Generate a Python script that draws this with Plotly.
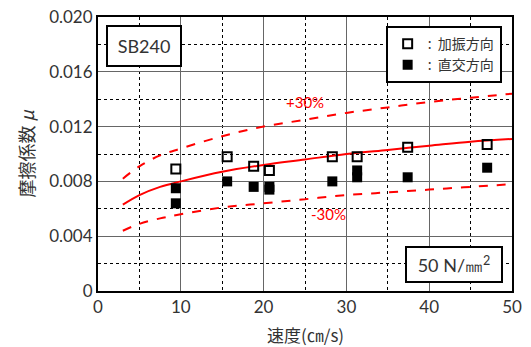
import plotly.graph_objects as go

# ---- data ----
speed_open = [9.4, 15.6, 18.8, 20.7, 28.3, 31.3, 37.4, 47.0]
mu_open = [0.0089, 0.0098, 0.0091, 0.0088, 0.0098, 0.0098, 0.0105, 0.0107]

speed_filled = [9.4, 9.4, 15.6, 18.8, 20.7, 20.7, 28.3, 31.3, 31.3, 37.4, 47.0]
mu_filled = [0.0075, 0.0064, 0.0080, 0.0076, 0.0076, 0.0074, 0.0080, 0.0088, 0.0083, 0.0083, 0.0090]

curve_x = [3, 5, 7.5, 10, 15, 20, 25, 30, 35, 40, 45, 50]
curve_mid = [0.0063, 0.0070, 0.0076, 0.0080, 0.0087, 0.0092, 0.0096, 0.0100, 0.0103, 0.0106, 0.0109, 0.0111]
curve_up = [0.0082, 0.0091, 0.0099, 0.0104, 0.0113, 0.0120, 0.0125, 0.0130, 0.0134, 0.0138, 0.0141, 0.0144]
curve_lo = [0.0044, 0.0049, 0.0053, 0.0056, 0.0061, 0.0064, 0.0067, 0.0070, 0.0072, 0.0074, 0.0076, 0.0078]

x_ticks = [0, 10, 20, 30, 40, 50]
y_ticks = [0, 0.004, 0.008, 0.012, 0.016, 0.020]
y_ticktext = ["0", "0.004", "0.008", "0.012", "0.016", "0.020"]

RED = "#ff0000"
TXT = "#333333"
NUMFONT = "Lato"
CJK = "Noto Sans CJK JP"

fig = go.Figure()

fig.add_trace(go.Scatter(x=curve_x, y=curve_up, mode="lines", line=dict(color=RED, width=2, dash="dash", shape="spline"), showlegend=False, hoverinfo="skip"))
fig.add_trace(go.Scatter(x=curve_x, y=curve_mid, mode="lines", line=dict(color=RED, width=2, shape="spline"), showlegend=False, hoverinfo="skip"))
fig.add_trace(go.Scatter(x=curve_x, y=curve_lo, mode="lines", line=dict(color=RED, width=2, dash="dash", shape="spline"), showlegend=False, hoverinfo="skip"))

fig.add_trace(go.Scatter(x=speed_open, y=mu_open, mode="markers", name=":  加振方向",
                         marker=dict(symbol="square-open", size=9, color="black", line=dict(width=2, color="black"))))
fig.add_trace(go.Scatter(x=speed_filled, y=mu_filled, mode="markers", name=":  直交方向",
                         marker=dict(symbol="square", size=10, color="black", line=dict(width=0))))

fig.update_layout(
    width=531, height=347,
    margin=dict(l=97.5, r=18.5, t=17, b=56, autoexpand=False),
    paper_bgcolor="white", plot_bgcolor="white",
    font=dict(family=NUMFONT, color=TXT, size=17),
    showlegend=True,
    legend=dict(x=0.975, xanchor="right", y=0.967, yanchor="top",
                bordercolor="black", borderwidth=2, bgcolor="white",
                font=dict(family=CJK, size=14, color=TXT),
                tracegroupgap=0, itemwidth=30),
    xaxis=dict(range=[0, 50], tickvals=x_ticks, showline=True, linecolor="black", linewidth=2, mirror=True,
               showgrid=True, gridcolor="#666666", gridwidth=1.2, zeroline=False, ticks="", automargin=False,
               tickfont=dict(family=NUMFONT, size=17, color=TXT),
               minor=dict(dtick=5, showgrid=True, griddash="dot", gridcolor="black", gridwidth=1)),
    yaxis=dict(range=[0, 0.020], tickvals=y_ticks, ticktext=y_ticktext, showline=True, linecolor="black", linewidth=2, mirror=True,
               showgrid=True, gridcolor="#666666", gridwidth=1.2, zeroline=False, ticks="", automargin=False,
               tickfont=dict(family=NUMFONT, size=17, color=TXT),
               minor=dict(dtick=0.002, showgrid=True, griddash="dot", gridcolor="black", gridwidth=1)),
)

# axis titles
fig.add_annotation(xref="paper", yref="paper", x=0.5, y=-0.158, xanchor="center", yanchor="middle",
                   text="速度(㎝/s)", showarrow=False, font=dict(family=CJK, size=17, color=TXT))
fig.add_annotation(xref="paper", yref="paper", x=-0.175, y=0.5, xanchor="center", yanchor="middle", textangle=-90,
                   text="摩擦係数 <i>μ</i>", showarrow=False, font=dict(family=CJK, size=18, color=TXT))

# boxed labels
fig.add_annotation(xref="paper", yref="paper", x=0.111, y=0.894, xanchor="center", yanchor="middle",
                   text="SB240", showarrow=False, width=70, height=36, borderpad=1,
                   bordercolor="black", borderwidth=2, bgcolor="white",
                   font=dict(family=NUMFONT, size=18, color=TXT))
fig.add_annotation(xref="paper", yref="paper", x=0.861, y=0.0965, xanchor="center", yanchor="middle",
                   text="50 N/㎜<sup>2</sup>", showarrow=False, width=92, height=31, borderpad=1,
                   bordercolor="black", borderwidth=2, bgcolor="white",
                   font=dict(family=NUMFONT, size=18, color=TXT))

fig.add_annotation(x=25, y=0.0138, text="+30%", showarrow=False, font=dict(family=NUMFONT, size=15, color=RED))
fig.add_annotation(x=27.8, y=0.0056, text="-30%", showarrow=False, font=dict(family=NUMFONT, size=15, color=RED))

fig.write_html("out.html")
